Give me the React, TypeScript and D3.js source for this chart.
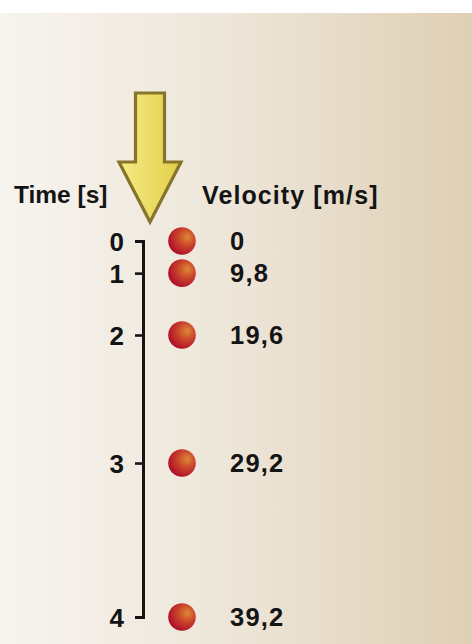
import React, { useEffect, useRef } from "react";
import * as d3 from "d3";

const times = ["0", "1", "2", "3", "4"];
const fallPositions = [0, 6.7, 19.6, 46.3, 78.4];
const velocities = ["0", "9,8", "19,6", "29,2", "39,2"];
const timeTitle = "Time [s]";
const velocityTitle = "Velocity [m/s]";

const W = 472;
const H = 644;
const FONT = "'Liberation Sans', Arial, Helvetica, sans-serif";

export default function App() {
  const ref = useRef<SVGSVGElement | null>(null);

  useEffect(() => {
    const svg = d3.select(ref.current);
    svg.selectAll("*").remove();

    const defs = svg.append("defs");
    const bg = defs.append("linearGradient").attr("id", "bg").attr("x1", "0").attr("x2", "1").attr("y1", "0").attr("y2", "0");
    bg.append("stop").attr("offset", "0").attr("stop-color", "#f7f4ef");
    bg.append("stop").attr("offset", "0.5").attr("stop-color", "#ede5d8");
    bg.append("stop").attr("offset", "1").attr("stop-color", "#dfd0b4");

    const ag = defs.append("linearGradient").attr("id", "arrowFill").attr("x1", "0").attr("x2", "1").attr("y1", "0").attr("y2", "0");
    ag.append("stop").attr("offset", "0").attr("stop-color", "#f6ec86");
    ag.append("stop").attr("offset", "1").attr("stop-color", "#e2ce48");

    const rg = defs.append("radialGradient").attr("id", "ball").attr("cx", "0.65").attr("cy", "0.38").attr("r", "0.65").attr("fx", "0.7").attr("fy", "0.35");
    rg.append("stop").attr("offset", "0").attr("stop-color", "#dc8a36");
    rg.append("stop").attr("offset", "0.45").attr("stop-color", "#cd4a2c");
    rg.append("stop").attr("offset", "1").attr("stop-color", "#b0102a");

    svg.append("rect").attr("x", 0).attr("y", 13).attr("width", W).attr("height", H - 13).attr("fill", "url(#bg)");

    // arrow
    const ax = 150;
    const arrowPath = d3.path();
    arrowPath.moveTo(ax - 14.5, 93);
    arrowPath.lineTo(ax + 14.5, 93);
    arrowPath.lineTo(ax + 14.5, 162);
    arrowPath.lineTo(ax + 31, 162);
    arrowPath.lineTo(ax, 222);
    arrowPath.lineTo(ax - 31, 162);
    arrowPath.lineTo(ax - 14.5, 162);
    arrowPath.closePath();
    svg.append("path").attr("d", arrowPath.toString()).attr("fill", "url(#arrowFill)")
      .attr("stroke", "#86742a").attr("stroke-width", 3.2).attr("stroke-linejoin", "miter");

    const y = d3.scaleLinear().domain([0, 78.4]).range([241, 617]);

    // titles
    svg.append("text").attr("x", 14).attr("y", 203).text(timeTitle)
      .attr("font-family", FONT).attr("font-weight", "bold").attr("font-size", 24.5).attr("fill", "#141414");
    svg.append("text").attr("x", 202).attr("y", 204).text(velocityTitle)
      .attr("font-family", FONT).attr("font-weight", "bold").attr("font-size", 25).attr("letter-spacing", 1.1).attr("fill", "#141414");

    // axis
    const axis = d3.axisLeft(y)
      .tickValues(fallPositions)
      .tickFormat((_d, i) => times[i])
      .tickSize(8)
      .tickPadding(11);
    const g = svg.append("g").attr("transform", "translate(143,0)").call(axis);
    g.select(".domain").attr("stroke", "#141414").attr("stroke-width", 3);
    g.selectAll(".tick line").attr("stroke", "#141414").attr("stroke-width", 2.6);
    g.selectAll(".tick text").attr("font-family", FONT).attr("font-weight", "bold")
      .attr("font-size", 26).attr("fill", "#141414").attr("dy", "0.36em");

    // balls
    svg.append("g").selectAll("circle").data(fallPositions).join("circle")
      .attr("cx", 182).attr("cy", (d) => y(d)).attr("r", 13.8).attr("fill", "url(#ball)");

    // velocity labels
    svg.append("g").selectAll("text").data(fallPositions).join("text")
      .attr("x", 230).attr("y", (d) => y(d)).attr("dy", "0.36em")
      .text((_d, i) => velocities[i])
      .attr("font-family", FONT).attr("font-weight", "bold").attr("font-size", 25.5)
      .attr("letter-spacing", 1.2).attr("fill", "#141414");
  }, []);

  return (
    <svg ref={ref} width={W} height={H} style={{ position: "absolute", left: 0, top: 0, display: "block" }} />
  );
}
